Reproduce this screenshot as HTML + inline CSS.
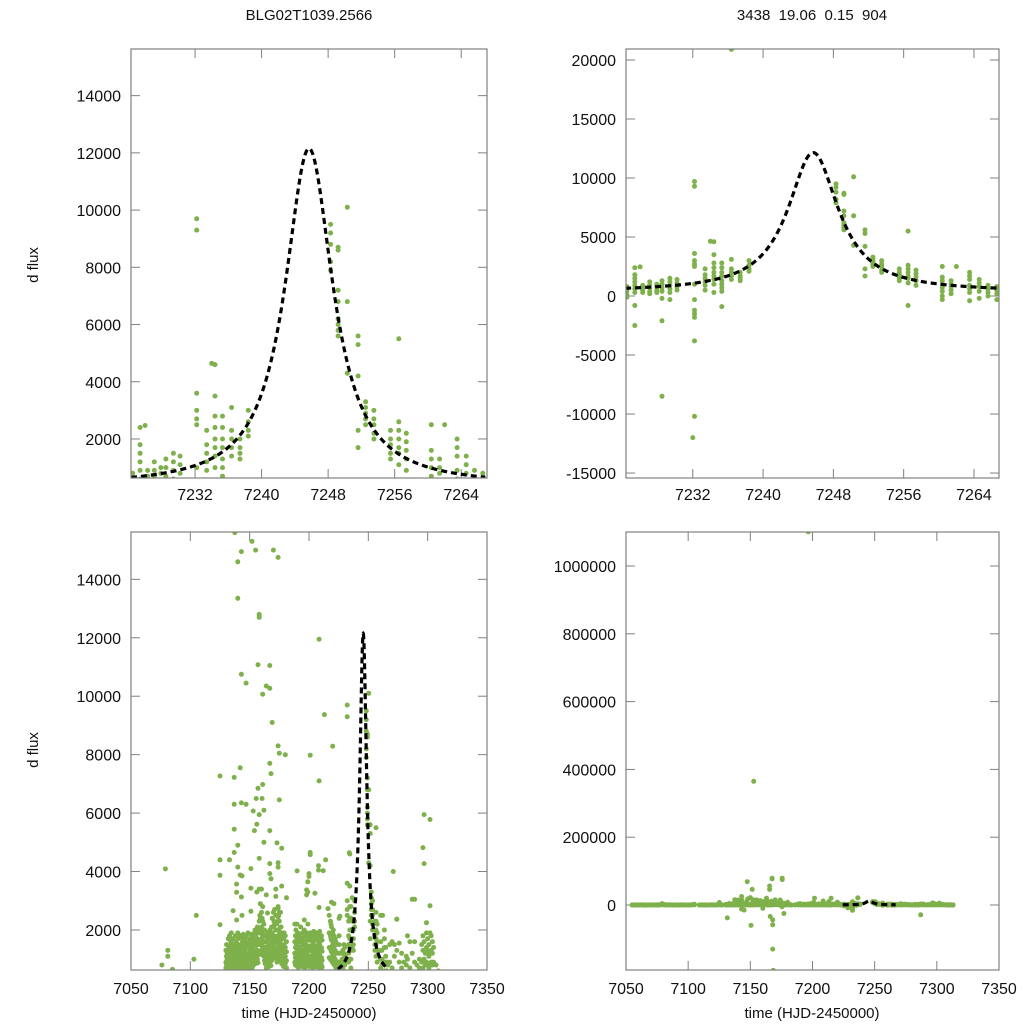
<!DOCTYPE html>
<html><head><meta charset="utf-8">
<style>
html,body{margin:0;padding:0;background:#fff;}
svg{display:block;font-family:"Liberation Sans",Arial,sans-serif;}
</style></head>
<body>
<svg id="chart" width="1024" height="1024" viewBox="0 0 1024 1024" xmlns="http://www.w3.org/2000/svg">
<text x="309" y="20" font-size="15" text-anchor="middle" fill="#111">BLG02T1039.2566</text>
<text x="812" y="20" font-size="15" text-anchor="middle" fill="#111" xml:space="preserve">3438  19.06  0.15  904</text>
<text x="0" y="0" font-size="15" text-anchor="middle" fill="#111" transform="translate(38,265) rotate(-90)">d flux</text>
<text x="0" y="0" font-size="15" text-anchor="middle" fill="#111" transform="translate(38,750) rotate(-90)">d flux</text>
<text x="309" y="1018" font-size="15" text-anchor="middle" fill="#111">time (HJD-2450000)</text>
<text x="812" y="1018" font-size="15" text-anchor="middle" fill="#111">time (HJD-2450000)</text>
</svg>
<script>
// ---- data ----
const eventTimes = [7224.5,7225.4,7226.3,7227.1,7227.9,7228.5,7229.4,7230.2,7232.2,7233.4,7234.4,7235.3,7236.4,7237.4,7238.4,7248.3,7249.2,7250.3,7251.6,7252.5,7253.5,7255.5,7256.5,7257.4,7260.4,7261.4,7263.5,7264.6,7265.6,7266.6];
const eventFluxes = [
[800,600,400,100,-100],
[2400,1800,1500,1200,900,600,300,-800,-2500],
[900,700,500,300],
[1200,900,700,400,200],
[1000,800,500,300],
[1300,1000,700,400,-200,-2100,-8500],
[1500,1200,900,600,300,-300],
[1400,1100,800,500],
[9700,9300,3600,3000,2700,2500,1000,-300,-1200,-1500,-1800,-3800,-10200,-15600],
[2300,1800,1500,1200,900,500],
[4600,3500,2800,2400,2000,1700,1400,1000,300],
[2800,2400,2000,1700,1300,1000,700,400,-900],
[20900,3100,2300,2000,1700,1400],
[2000,1700,1500,1300],
[3000,2600,2300,2100],
[9500,9200,8800,8200,7900],
[8700,8600,7200,6800,6200,6000,5800,5600],
[10100,6800,4300],
[5600,5300,4200,2300,1700],
[3300,3100,2900,2700,2500],
[3000,2700,2500,2200,2000],
[2300,2000,1800,1500,1300],
[5500,2600,2300,2000,1700,1500,1100,-800],
[2200,1900,1600,1300,900],
[2500,1600,1300,1000,700,400,0,-300],
[1300,1000,800,500,200],
[2000,1700,1400,900,600,300,-400],
[1400,1100,800,400,-200],
[900,600,300,0],
[800,500,200,-300]
];
const wideTimes = [7130,7130.5,7131,7132,7132.5,7133,7134,7134.5,7135,7136,7136.5,7137,7138,7138.5,7139,7140,7140.5,7141,7142,7142.5,7143,7144,7144.5,7145,7146,7146.5,7147,7148,7148.5,7149,7150,7150.5,7151,7152,7152.5,7153,7154,7154.5,7155,7156,7156.5,7157,7158,7158.5,7159,7160,7160.5,7161,7162,7162.5,7163,7164,7164.5,7165,7166,7166.5,7167,7168,7168.5,7169,7170,7170.5,7171,7172,7172.5,7173,7174,7174.5,7175,7176,7176.5,7177,7178,7178.5,7179,7180,7181,
7188,7188.5,7189,7190,7190.5,7191,7192,7192.5,7193,7194,7194.5,7195,7196,7196.5,7197,7198,7198.5,7199,7200,7200.5,7201,7202,7202.5,7203,7204,7204.5,7205,7206,7206.5,7207,7208,7208.5,7209,7210,7210.5,7211,
7217,7218,7218.5,7219,7220,7220.5,7221,7222,7222.5,7223];
const wideFluxes = [
[1300,900,700,200],[1500,1100,800,600],[1200,1000,750,400],[1700,1300,950,650],[1400,1000,800,500],
[1800,1300,1000,700],[1600,1200,900,700],[1900,1500,1100,800],[1400,1100,850,650],[1700,1250,1000,750],
[1500,1200,900,700],[1300,1000,800,650],[1800,1400,1100,850],[1600,1250,950,700],[1400,1150,900,700],
[1900,1500,1200,900],[1700,1300,1000,750],[1500,1200,950,700],[1800,1350,1050,800],[1400,1100,850,680],
[1750,1300,1000,780],[1600,1250,950,720],[1850,1400,1100,850],[1500,1150,900,700],[1700,1300,1000,760],
[1600,1200,950,740],[1800,1450,1100,820],[1400,1100,880,700],[1900,1500,1150,900],[1550,1200,950,750],
[1700,1350,1050,800],[1600,1250,980,760],[1850,1450,1100,850],[1500,1150,900,700],[1750,1400,1050,820],
[1650,1300,1000,780],[1900,1500,1150,900],[2000,1600,1250,950],[1800,1450,1100,850],[1950,1550,1200,900],
[2100,1700,1300,1000],[1900,1500,1150,880],[2300,1900,1500,1200],[2500,2000,1600,1250],[2900,2400,1900,1500],
[2600,2100,1700,1300],[2400,1900,1500,1150],[2800,2300,1800,1400],[2200,1800,1400,1100],[2000,1600,1250,950],
[1800,1400,1100,850],[1600,1250,950,700],[1700,1350,1000,760],[1900,1450,1100,830],[1650,1300,980,740],
[1800,1400,1050,800],[2000,1550,1200,900],[1750,1350,1020,780],[2100,1650,1250,950],[2400,1900,1450,1100],
[2600,2100,1600,1200],[2300,1800,1400,1050],[2700,2200,1700,1300],[2500,2000,1550,1150],[2200,1750,1350,1000],
[2000,1600,1250,900],[2800,2300,1800,1400],[2500,2000,1500,1100],[2300,1850,1400,1050],[2600,2100,1650,1250],
[2100,1700,1300,950],[1900,1500,1150,850],[1800,1400,1100,800],[1700,1300,1000,750],[1900,1500,1150,880],
[1800,1400,1100,850],[1600,1250,950,700],
[2200,1600,1200,900],[1800,1400,1050,800],[2000,1550,1150,880],[1700,1300,1000,760],[1900,1450,1100,850],
[1600,1250,950,720],[1850,1400,1080,820],[1750,1350,1020,780],[2100,1600,1200,920],[1700,1300,980,750],
[1900,1500,1150,870],[1650,1280,960,740],[2000,1550,1180,900],[1800,1400,1060,810],[1600,1250,940,720],
[1900,1480,1120,860],[1750,1350,1030,790],[2200,1700,1250,950],[1800,1400,1070,820],[1650,1300,980,750],
[1900,1450,1100,850],[1700,1320,1000,770],[1850,1420,1080,830],[1600,1250,950,720],[1950,1500,1150,870],
[1700,1300,1000,760],[1800,1400,1050,800],[1650,1280,970,740],[1900,1460,1110,840],[1750,1340,1020,780],
[1850,1420,1070,820],[1600,1230,940,710],[1950,1500,1130,860],[1700,1310,990,760],[1800,1390,1050,800],[1650,1270,960,730],
[2500,1900,1400,1050],[2300,1800,1350,1000],[2200,1700,1300,980],[2100,1650,1250,950],[1900,1500,1150,880],
[2000,1550,1180,900],[1800,1400,1080,820],[1700,1300,1000,780],[1600,1250,950,720],[1500,1200,900,700]
];
const sparseTimes = [7055,7057,7059,7061,7063,7065,7067,7069,7071,7073,7075,7076,7077,7079,7081,7083,7085,7087,7089,7091,7093,7095,7097,7099,7101,7103,7105,7109,7111,7113,7115,7117,7119,7121,7123,7125,7127,
7183,7186,7213,7215,
7268,7270,7272,7274,7276,7278,7280,7282,7283,7285,7287,7289,7291,7293,7295,7296,7297,7298,7299,7300,7301,7302,7303,7304,7305,7307,7309,7311,7313];
const sparseFluxes = [
[300,-200],[100,-400],[400,0],[200,-300],[500,-100],[300,-500],[100,-200],[400,-300],[200,0],[300,-400],[200,-100],[800,-200],[300,0],[4090,200],[1300,1100,-300],[200,-100],[650,-200],[300,-400],[100,-300],[400,0],[200,-200],[500,-100],[300,-300],[100,0],[400,-200],[1000,-100],[2500,200],[300,-300],[200,0],[400,-200],[100,-400],[300,0],[500,-100],[200,-300],[400,0],[7270,3870,2180,300],[500,-200],
[300,-400],[400,-100],[500,-200],[300,-100],
[1500,900,300],[1600,700,200],[1500,1100,-100],[2370,1300,400],[1550,900,200],[1200,700,0],[900,400,-200],[1100,800,300],[1800,1000,100],[1600,700,-300],[3050,1200,400,-29000],[3050,1600,900,200],[800,300,-100],[1000,700,200],[1500,900,300],[4820,1800,1300,700],[5950,4270,1600,1000],[1200,800,300],[2250,1900,1400,900],[1700,1300,800],[1500,1100,700,300],[5780,2830,1900,1200],[1800,1300,900,500],[1600,1200,800],[1400,900,500],[800,400,0],[600,200,-200],[500,100,-300],[400,0,-200]
];
// outliers as [time, flux] pairs
const outliers = [
[7131.5,-38000],[7133,4400],[7136,2660],[7137,7220],[7137,6300],[7137,5450],[7137,4650],[7137.5,15600],
[7139,3570],[7139,3290],[7139,2340],[7140,14600],[7140,13350],[7140,4900],[7140,4150],[7142,7550],[7142,3880],
[7143,14950],[7143,10750],[7143,6350],[7143,3130],[7143,-12000],[7143,25000],[7143.5,3850],[7143.5,2500],
[7145,-15000],[7147,10450],[7147,6300],[7147.5,68700],[7148,18000],[7150,22000],[7150.5,-60000],
[7151,3430],[7151,2640],[7151,4100],[7151.5,46000],[7152,15300],[7152.7,365000],[7153,6070],[7154,5400],
[7155,15000],[7155.5,6500],[7156,5620],[7156,3300],[7157,11080],[7157,6850],[7158,12800],[7158,12700],
[7158,5950],[7158,4450],[7158,3400],[7160,3400],[7160,-10000],[7160.5,6500],[7161,10070],[7161,6980],
[7162,6100],[7162,5000],[7163,20000],[7164,10350],[7164,3200],[7165,2580],[7165.5,56000],[7165.5,46000],
[7166,-34000],[7167,11050],[7167,10270],[7167,7700],[7167,5400],[7167,4270],[7167,3930],[7167.5,79000],
[7167.5,77000],[7168,7350],[7168,-44000],[7168,-58000],[7168,-130000],[7168,3750],[7168.5,-193000],
[7169,9100],[7170,15000],[7172,3400],[7172,3150],[7173,4980],[7174,14750],[7174,8300],[7174,4300],
[7174,4150],[7174,2750],[7174,2450],[7175,8050],[7175,6450],[7175,2600],[7175.5,-5000],[7175.6,79000],
[7175.6,75000],[7177,4800],[7177,3500],[7177,-25000],[7180,8000],[7181,3100],[7190,4020],[7190,2200],
[7196,2340],[7196.6,1101000],[7198,3370],[7198,3200],[7199,3650],[7199,3300],[7200,3930],[7200,3830],
[7201,7980],[7201,4650],[7201,4580],[7201.6,20000],[7205,3260],[7208,4200],[7208,4050],[7208.5,11950],
[7208.5,7100],[7208.5,2770],[7212,4030],[7213,9370],[7214,4400],[7215,20000],[7216,2730],[7219,2950],
[7220,8290],[7221,2900],[7226,2470],[7232,-12000],[7234,4640],[7236.5,21000],[7262,2500],[7271,4000],[7274,2370],
[7125,4400]
];
const modelParams = [7245.7, 350, 11800, 3.5]; // t0, baseline, amplitude, width
const modelRange = [7224.3, 7266.9];
const xTicksZoom = [7232,7240,7248,7256,7264];
const xTicksFull = [7050,7100,7150,7200,7250,7300,7350];
const yTicksTopLeft = [2000,4000,6000,8000,10000,12000,14000];
const yTicksTopRight = [-15000,-10000,-5000,0,5000,10000,15000,20000];
const yTicksBottomLeft = [2000,4000,6000,8000,10000,12000,14000];
const yTicksBottomRight = [0,200000,400000,600000,800000,1000000];

// ---- layout ----
const panels = [
 {id:'top-left', x0:131,x1:487,y0:49,y1:478, t:[7224.3,7267.1], f:[636,15630], xt:xTicksZoom, yt:yTicksTopLeft},
 {id:'top-right', x0:626,x1:999,y0:49,y1:478, t:[7224.4,7266.85], f:[-15420,20930], xt:xTicksZoom, yt:yTicksTopRight},
 {id:'bottom-left', x0:131,x1:487,y0:532,y1:970, t:[7050,7350], f:[630,15620], xt:xTicksFull, yt:yTicksBottomLeft},
 {id:'bottom-right', x0:626,x1:999,y0:532,y1:970, t:[7050,7350], f:[-191700,1100300], xt:xTicksFull, yt:yTicksBottomRight}
];
const NS = 'http://www.w3.org/2000/svg';
const svg = document.getElementById('chart');
function mk(tag, attrs, parent){const e=document.createElementNS(NS,tag);for(const k in attrs)e.setAttribute(k,attrs[k]);(parent||svg).appendChild(e);return e;}

const allT=[], allF=[];
function addGroups(ts, fs){ts.forEach((t,i)=>fs[i].forEach(f=>{allT.push(t);allF.push(f);}));}
addGroups(eventTimes,eventFluxes);
addGroups(wideTimes,wideFluxes);
addGroups(sparseTimes,sparseFluxes);
outliers.forEach(o=>{allT.push(o[0]);allF.push(o[1]);});

function model(t){const d=(t-modelParams[0])/modelParams[3];return modelParams[1]+modelParams[2]/(1+d*d);}

panels.forEach((p,pi)=>{
  const sx=t=>p.x0+(t-p.t[0])/(p.t[1]-p.t[0])*(p.x1-p.x0);
  const sy=f=>p.y1-(f-p.f[0])/(p.f[1]-p.f[0])*(p.y1-p.y0);
  const g=mk('g',{});
  
  
  const cp=mk('clipPath',{id:'clip'+pi},g);
  mk('rect',{x:p.x0,y:p.y0,width:p.x1-p.x0,height:p.y1-p.y0},cp);
  p.xt.forEach(v=>{
    const x=sx(v);
    const t1=mk('line',{x1:x,x2:x,y1:p.y1,y2:p.y1-9,stroke:'#808080','stroke-width':1},g);
    
    
    mk('line',{x1:x,x2:x,y1:p.y0,y2:p.y0+9,stroke:'#808080','stroke-width':1},g);
    const lb=mk('text',{x:x,y:p.y1+(pi<2?22:24),'font-size':16,'text-anchor':'middle',fill:'#111'},g);
    lb.textContent=v;
    
    
  });
  p.yt.forEach(v=>{
    const y=sy(v);
    const t1=mk('line',{x1:p.x0,x2:p.x0+9,y1:y,y2:y,stroke:'#808080','stroke-width':1},g);
    
    
    mk('line',{x1:p.x1,x2:p.x1-9,y1:y,y2:y,stroke:'#808080','stroke-width':1},g);
    const lb=mk('text',{x:p.x0-10,y:y+6,'font-size':16,'text-anchor':'end',fill:'#111'},g);
    lb.textContent=v;
    
    
  });
  const pg=mk('g',{'clip-path':'url(#clip'+pi+')',fill:'#7eb04b'},g);
  
  
  allT.forEach((t,i)=>{
    const f=allF[i];
    if(t<p.t[0]-0.5||t>p.t[1]+0.5||f<p.f[0]-(p.f[1]-p.f[0])*0.01||f>p.f[1]+(p.f[1]-p.f[0])*0.01) return;
    const c=mk('circle',{cx:sx(t).toFixed(1),cy:sy(f).toFixed(1),r:2.5},pg);
    
    
  });
  let d='';
  for(let t=modelRange[0];t<=modelRange[1]+1e-9;t+=0.05){d+=(d?'L':'M')+sx(t).toFixed(2)+','+sy(model(t)).toFixed(2);}
  const ml=mk('path',{d:d,fill:'none',stroke:'#000','stroke-width':3.2,'stroke-dasharray':'6,4','clip-path':'url(#clip'+pi+')'},g);
  
  
  const fr=mk('rect',{x:p.x0,y:p.y0,width:p.x1-p.x0,height:p.y1-p.y0,fill:'none',stroke:'#808080','stroke-width':1.2},g);
  
  
});
</script>
</body></html>
